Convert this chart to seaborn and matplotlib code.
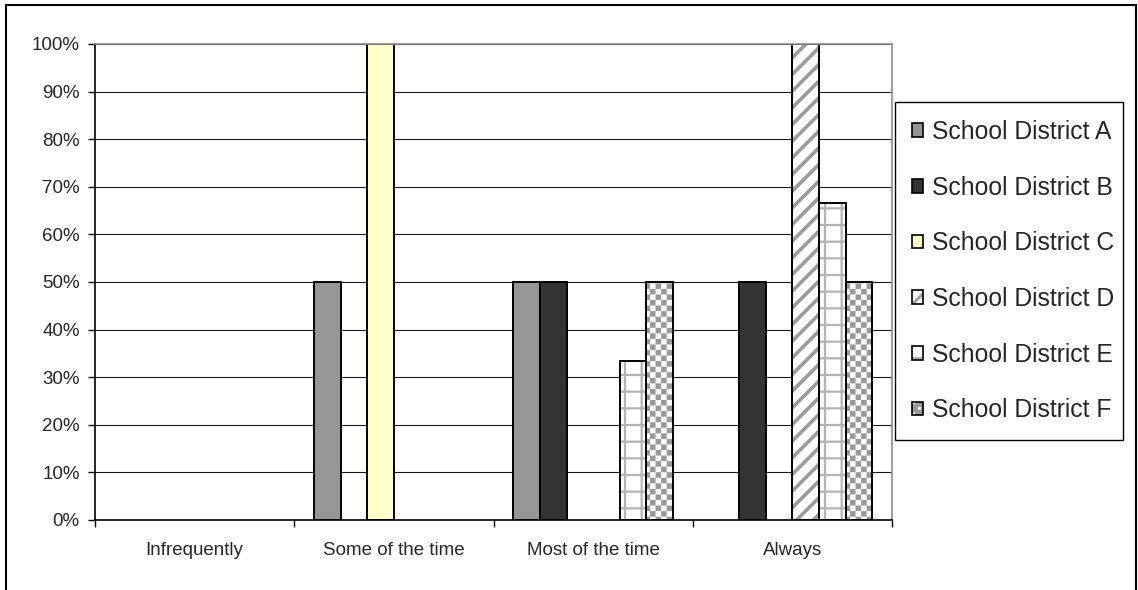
import numpy as np
import pandas as pd
import matplotlib
matplotlib.use("Agg")
import matplotlib.pyplot as plt
import matplotlib.hatch as mhatch
from matplotlib.path import Path
from matplotlib.patches import Rectangle
from matplotlib.lines import Line2D
from matplotlib.ticker import FixedLocator
from matplotlib.legend_handler import HandlerTuple
import seaborn as sns

# ---- data -------------------------------------------------------------
categories = ["Infrequently", "Some of the time", "Most of the time", "Always"]
districts = ["School District A", "School District B", "School District C",
             "School District D", "School District E", "School District F"]
district_a = [0, 50, 50, 0]
district_b = [0, 0, 50, 50]
district_c = [0, 100, 0, 0]
district_d = [0, 0, 0, 100]
district_e = [0, 0, 33.3, 66.7]
district_f = [0, 0, 50, 50]
y_ticks = [0, 10, 20, 30, 40, 50, 60, 70, 80, 90, 100]
y_tick_labels = [f"{v}%" for v in y_ticks]

series = [district_a, district_b, district_c, district_d, district_e, district_f]
df = pd.DataFrame({
    "category": [c for _ in districts for c in categories],
    "district": [d for d in districts for _ in categories],
    "value": [v for s in series for v in s],
})

# ---- checkerboard hatch ('c') -----------------------------------------
class CheckerHatch(mhatch.HatchPatternBase):
    def __init__(self, hatch, density):
        n = int(hatch.count("c") * density)
        self.n = n + (n % 2)
        self.num_vertices = (self.n * self.n // 2) * 5 if n else 0

    def set_vertices_and_codes(self, vertices, codes):
        n = self.n
        s = 1.0 / n
        k = 0
        for i in range(n):
            for j in range(n):
                if (i + j) % 2 == 0:
                    x0, y0 = i * s, j * s
                    vertices[k:k + 5] = [(x0, y0), (x0 + s, y0), (x0 + s, y0 + s),
                                         (x0, y0 + s), (x0, y0)]
                    codes[k] = Path.MOVETO
                    codes[k + 1:k + 4] = Path.LINETO
                    codes[k + 4] = Path.CLOSEPOLY
                    k += 5


mhatch._hatch_types.append(CheckerHatch)
mhatch._validate_hatch_pattern = lambda hatch: None

# ---- styling ----------------------------------------------------------
sns.set_theme(style="white")
plt.rcParams["font.family"] = ["Liberation Sans", "DejaVu Sans"]
plt.rcParams["hatch.linewidth"] = 2.0

face_colors = ["#969696", "#333333", "#FFFFCC", "#FFFFFF", "#FFFFFF", "#FFFFFF"]
hatches = [None, None, None, "//", "+", "ccc"]
hatch_colors = [None, None, None, "#9c9c9c", "#b4b4b4", "#999999"]
hatch_widths = [None, None, None, 2.6, 1.6, 0.0]

W, H = 1138, 590
fig = plt.figure(figsize=(W / 100, H / 100), dpi=100)
ax = fig.add_axes([95 / W, 1 - 520 / H, (892 - 95) / W, (520 - 44) / H])

sns.barplot(data=df, x="category", y="value", hue="district",
            order=categories, hue_order=districts,
            palette=face_colors, saturation=1, width=0.8,
            edgecolor="black", linewidth=1.4, legend=False, ax=ax)


def style_hatched(patch, i):
    patch.set_hatch(hatches[i])
    patch.set_edgecolor(hatch_colors[i])
    patch.set_linewidth(0)
    if hasattr(patch, "set_hatch_linewidth"):
        patch.set_hatch_linewidth(hatch_widths[i])


for i, cont in enumerate(ax.containers):
    for bar in cont:
        if bar.get_height() == 0:
            bar.set_linewidth(0)
            continue
        if hatches[i] is None:
            continue
        style_hatched(bar, i)
        ax.add_patch(Rectangle(bar.get_xy(), bar.get_width(), bar.get_height(),
                               fill=False, edgecolor="black", linewidth=1.4,
                               zorder=bar.get_zorder() + 0.1))

# axes
ax.set_ylim(0, 100)
ax.set_xlim(-0.5, len(categories) - 0.5)
ax.set_yticks(y_ticks)
ax.set_yticklabels(y_tick_labels, fontsize=13.5)
ax.set_xticks(range(len(categories)))
ax.set_xticklabels(categories, fontsize=13.5)
ax.xaxis.set_minor_locator(FixedLocator(np.arange(-0.5, len(categories), 1.0)))
ax.tick_params(axis="x", which="major", length=0, pad=16)
ax.tick_params(axis="x", which="minor", length=5, width=1, color="black", bottom=True)
ax.tick_params(axis="y", which="major", length=5, width=1, color="black", left=True, pad=6)
ax.set_xlabel("")
ax.set_ylabel("")

ax.yaxis.grid(True, color="#1a1a1a", linewidth=0.8)
ax.xaxis.grid(False)
ax.set_axisbelow(True)
for side in ("left", "bottom"):
    ax.spines[side].set_color("black")
    ax.spines[side].set_linewidth(1.2)
for side in ("top", "right"):
    ax.spines[side].set_color("#8c8c8c")
    ax.spines[side].set_linewidth(1.2)
ax.set_facecolor("white")

# legend: hatched swatch with a black outline on top
handles = []
for i, d in enumerate(districts):
    if hatches[i] is None:
        handles.append(Rectangle((0, 0), 1, 1, facecolor=face_colors[i],
                                 edgecolor="black", linewidth=1.2))
    else:
        fill = Rectangle((0, 0), 1, 1, facecolor=face_colors[i])
        style_hatched(fill, i)
        outline = Rectangle((0, 0), 1, 1, fill=False, edgecolor="black", linewidth=1.2)
        handles.append((fill, outline))
leg = fig.legend(handles, districts, loc="upper left",
                 bbox_to_anchor=(912 / W, 1 - 120 / H),
                 bbox_transform=fig.transFigure, borderaxespad=0, borderpad=0,
                 fontsize=17.8, frameon=False,
                 handler_map={tuple: HandlerTuple(ndivide=1, pad=0)},
                 handlelength=0.46, handleheight=0.46, handletextpad=0.36,
                 labelspacing=1.28)
fig.add_artist(Rectangle((895 / W, 1 - 440 / H), (1123 - 895) / W, (440 - 102) / H,
                         transform=fig.transFigure, fill=False,
                         edgecolor="black", linewidth=1.0))

# outer frame of the chart
fx0, fx1, fy1 = 6 / W, 1136 / W, 1 - 4.5 / H
for xs, ys in (([fx0, fx0], [0, fy1]), ([fx0, fx1], [fy1, fy1]), ([fx1, fx1], [fy1, 0])):
    fig.add_artist(Line2D(xs, ys, transform=fig.transFigure, color="black", linewidth=1.5))

fig.savefig("out.png", dpi=100, facecolor="white")
